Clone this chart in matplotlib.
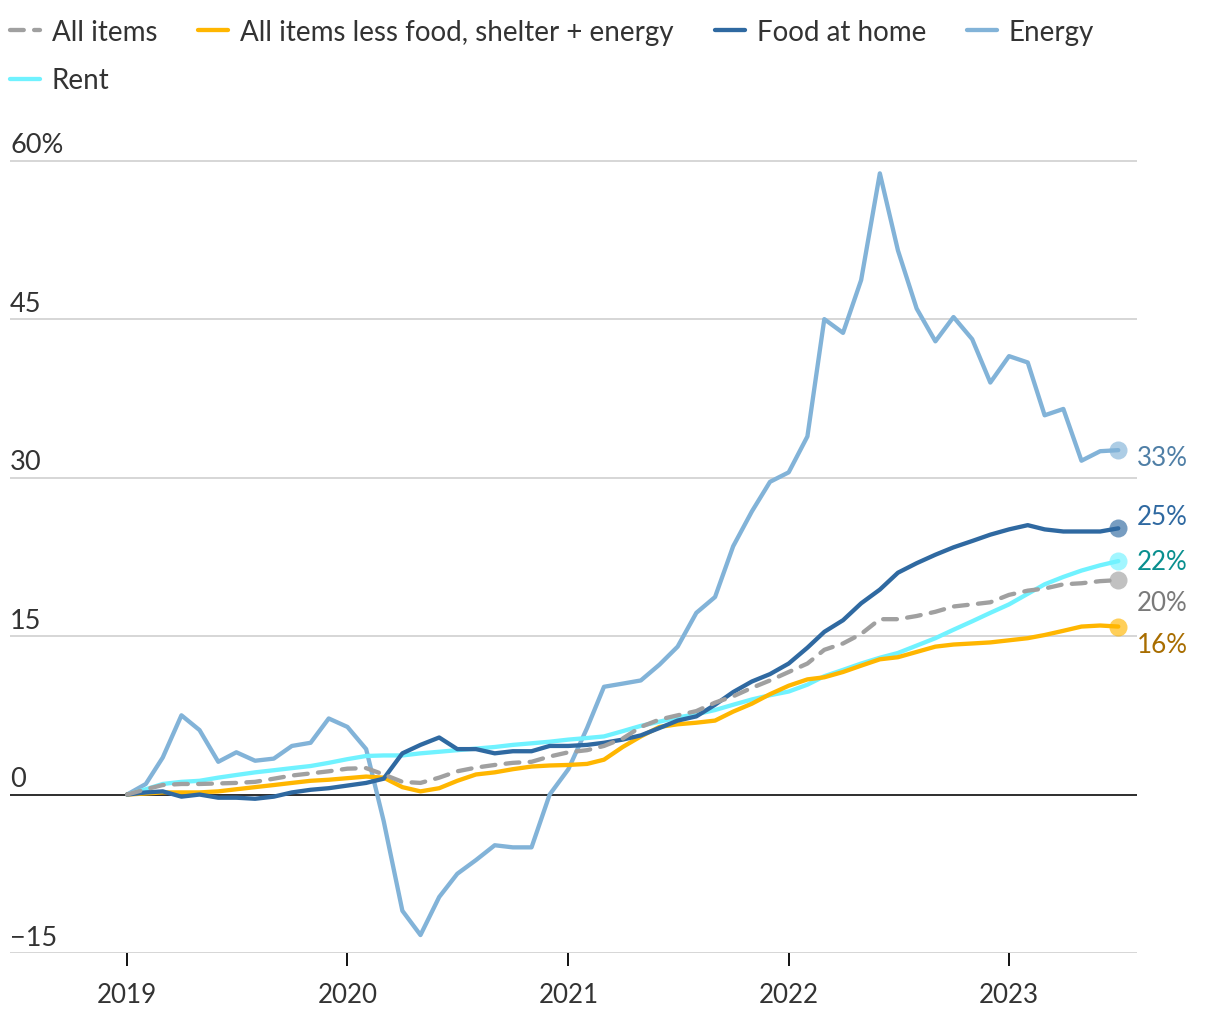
import matplotlib
matplotlib.use('Agg')
import matplotlib.pyplot as plt
import matplotlib.dates as mdates
from matplotlib.lines import Line2D
import pandas as pd

plt.rcParams['font.family'] = ['Lato', 'DejaVu Sans']

# cumulative change since Jan 2019, monthly, Jan 2019 - Jul 2023
months = pd.date_range('2019-01-01', periods=55, freq='MS')

all_items = [0, 0.5, 0.9, 1.0, 1.0, 1.05, 1.1, 1.2, 1.5, 1.8, 2.0, 2.2,
             2.45, 2.5, 1.9, 1.2, 1.1, 1.6, 2.2, 2.55, 2.8, 3.0, 3.1, 3.6,
             4.0, 4.2, 4.6, 5.3, 6.4, 7.1, 7.5, 7.9, 8.7, 9.3, 10.1, 10.8,
             11.6, 12.4, 13.7, 14.3, 15.2, 16.6, 16.6, 16.9, 17.3, 17.8, 18.0, 18.2,
             18.9, 19.3, 19.5, 19.9, 20.0, 20.2, 20.3]

core = [0, 0.1, 0.2, 0.2, 0.2, 0.3, 0.5, 0.7, 0.9, 1.1, 1.3, 1.4,
        1.55, 1.7, 1.6, 0.7, 0.3, 0.6, 1.3, 1.9, 2.1, 2.4, 2.65, 2.75,
        2.8, 2.9, 3.3, 4.5, 5.5, 6.4, 6.65, 6.8, 7.0, 7.85, 8.6, 9.5,
        10.3, 10.9, 11.1, 11.6, 12.2, 12.8, 13.0, 13.5, 14.0, 14.2, 14.3, 14.4,
        14.6, 14.8, 15.1, 15.5, 15.9, 16.0, 15.9]

food_home = [0, 0.2, 0.3, -0.2, 0.0, -0.3, -0.3, -0.4, -0.2, 0.2, 0.45, 0.6,
             0.85, 1.1, 1.5, 3.9, 4.7, 5.4, 4.3, 4.3, 3.9, 4.1, 4.1, 4.6,
             4.6, 4.7, 4.9, 5.2, 5.6, 6.3, 7.0, 7.4, 8.5, 9.7, 10.7, 11.4,
             12.4, 13.9, 15.4, 16.5, 18.1, 19.4, 21.0, 21.9, 22.7, 23.4, 24.0, 24.6,
             25.1, 25.5, 25.1, 24.9, 24.9, 24.9, 25.2]

energy = [0, 1.0, 3.5, 7.5, 6.1, 3.1, 4.0, 3.2, 3.4, 4.6, 4.9, 7.2,
          6.4, 4.3, -2.5, -11.0, -13.3, -9.7, -7.5, -6.2, -4.8, -5.0, -5.0, 0.0,
          2.4, 6.3, 10.2, 10.5, 10.8, 12.3, 14.0, 17.2, 18.7, 23.5, 26.8, 29.6,
          30.5, 33.9, 45.0, 43.7, 48.7, 58.8, 51.5, 46.0, 42.9, 45.2, 43.1, 39.0,
          41.5, 40.9, 35.9, 36.5, 31.6, 32.5, 32.6]

rent = [0, 0.5, 1.0, 1.2, 1.3, 1.6, 1.85, 2.1, 2.3, 2.5, 2.7, 3.0,
        3.35, 3.65, 3.7, 3.7, 3.9, 4.05, 4.2, 4.35, 4.5, 4.7, 4.85, 5.0,
        5.2, 5.35, 5.5, 6.0, 6.5, 6.9, 7.3, 7.6, 8.0, 8.5, 9.0, 9.4,
        9.75, 10.4, 11.2, 11.8, 12.4, 12.95, 13.4, 14.1, 14.8, 15.6, 16.4, 17.2,
        18.0, 19.0, 19.9, 20.6, 21.2, 21.7, 22.1]

yticks = [-15, 0, 15, 30, 45, 60]
ytick_labels = ['\u221215', '0', '15', '30', '45', '60%']

gray = '#a0a0a0'
yellow = '#ffb600'
navy = '#2f69a1'
sky = '#82b3d8'
cyan = '#70f2ff'

fig = plt.figure(figsize=(12.2, 10.2), dpi=100)
ax = fig.add_axes([10 / 1220, 66 / 1020, 1127 / 1220, 824 / 1020])

lw = 3.1
# drawn bottom to top
ax.plot(months, energy, color=sky, lw=lw, solid_joinstyle='round', solid_capstyle='round', zorder=3)
ax.plot(months, rent, color=cyan, lw=lw, solid_joinstyle='round', solid_capstyle='round', zorder=4)
ax.plot(months, core, color=yellow, lw=lw, solid_joinstyle='round', solid_capstyle='round', zorder=5)
ax.plot(months, food_home, color=navy, lw=lw, solid_joinstyle='round', solid_capstyle='round', zorder=6)
ax.plot(months, all_items, color=gray, lw=lw, dashes=(3.2, 2.4), dash_capstyle='round', zorder=7)

# end dots + value labels
ends = [
    (energy, sky, '#4f7fa6', -0.7),
    (food_home, navy, '#2f69a1', 1.1),
    (rent, cyan, '#0a8f8f', 0.0),
    (all_items, gray, '#7a7a7a', -2.1),
    (core, yellow, '#a86d00', -1.7),
]
for vals, c, tc, nudge in ends:
    ax.plot(months[-1], vals[-1], 'o', ms=13, color=c, alpha=0.65, mec='none', zorder=8)
    ax.annotate('%d%%' % round(vals[-1]), xy=(months[-1], vals[-1] + nudge),
                xytext=(13.5, 0), textcoords='offset points',
                va='center', ha='left', fontsize=18.7, color=tc)

ax.axhline(0, color='#111111', lw=1.2, zorder=2)

ax.set_xlim(pd.Timestamp('2018-06-21'), pd.Timestamp('2023-08-01'))
ax.set_ylim(-15, 63)

ax.set_yticks(yticks)
ax.tick_params(axis='y', length=0, labelleft=False)
ax.grid(axis='y', color='#cccccc', lw=1.1, zorder=1)
ax.set_axisbelow(True)
# y labels sit just above their grid lines
for v, lab in zip(yticks, ytick_labels):
    ax.text(0, v + 0.8, lab, transform=ax.get_yaxis_transform(), ha='left', va='baseline',
            fontsize=19.5, color='#333333')

ax.xaxis.set_major_locator(mdates.YearLocator())
ax.xaxis.set_major_formatter(mdates.DateFormatter('%Y'))
ax.tick_params(axis='x', length=9, width=1.4, color='#111111', pad=12,
               labelsize=18.7, labelcolor='#333333')

for s in ax.spines.values():
    s.set_visible(False)

# legend: first column holds "All items" and "Rent"
handles = [
    Line2D([], [], color=gray, lw=lw, dashes=(3.2, 2.4), dash_capstyle='round'),
    Line2D([], [], color=cyan, lw=lw, solid_capstyle='round'),
    Line2D([], [], color=yellow, lw=lw, solid_capstyle='round'),
    Line2D([], [], color=navy, lw=lw, solid_capstyle='round'),
    Line2D([], [], color=sky, lw=lw, solid_capstyle='round'),
]
labels = ['All items', 'Rent', 'All items less food, shelter + energy', 'Food at home', 'Energy']
leg = fig.legend(handles, labels, loc='upper left', bbox_to_anchor=(10 / 1220, 1 - 20 / 1020),
                 ncol=4, frameon=False, fontsize=20, handlelength=1.08, handletextpad=0.43,
                 columnspacing=1.47, labelspacing=0.8, borderpad=0, borderaxespad=0)
for t in leg.get_texts():
    t.set_color('#333333')

fig.savefig('out.png', dpi=100)
